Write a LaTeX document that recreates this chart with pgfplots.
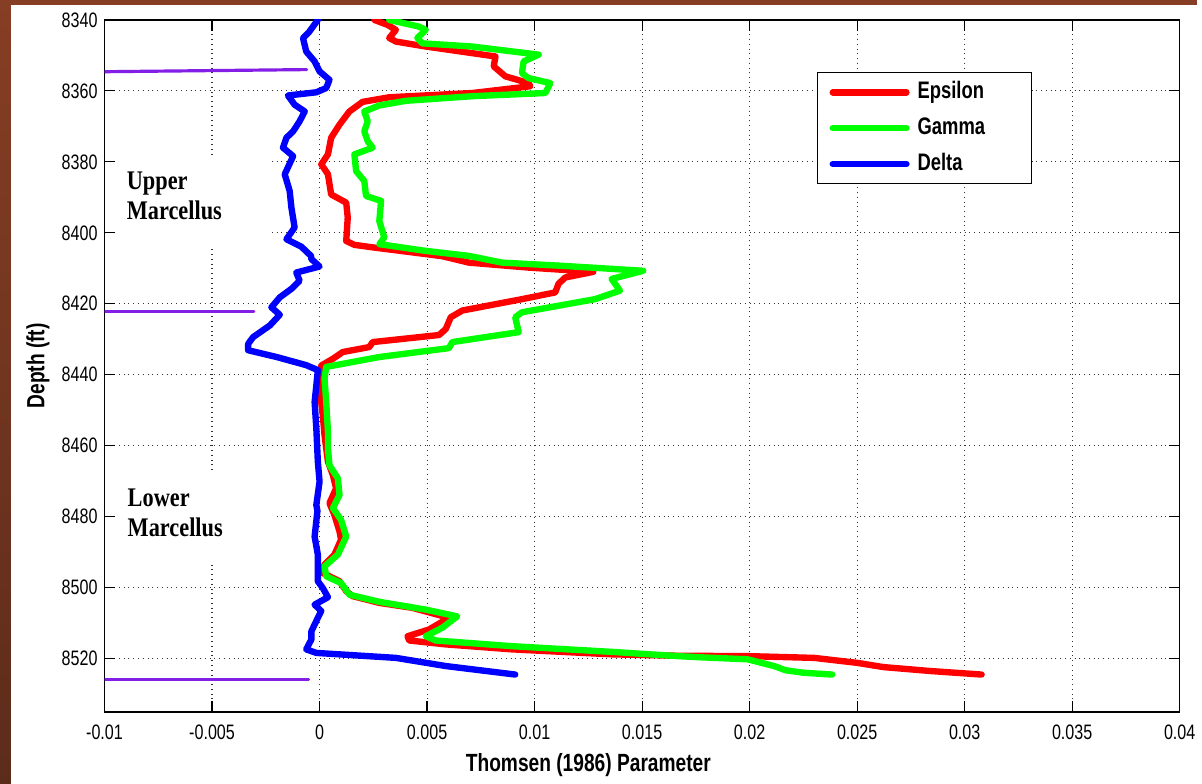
\documentclass[border=0pt]{standalone}
\usepackage{pgfplots}
\pgfplotsset{compat=1.18}
\usepackage{fontspec}
\setmainfont{Liberation Sans}[FakeStretch=0.77]
\newfontfamily\annofont{Liberation Serif}[FakeStretch=0.83]
\definecolor{epsc}{RGB}{255,0,0}
\definecolor{gamc}{RGB}{0,255,0}
\definecolor{delc}{RGB}{0,0,255}
\definecolor{topc}{RGB}{130,30,230}
\definecolor{frameA}{RGB}{134,62,36}
\definecolor{frameB}{RGB}{92,44,27}

\begin{document}
\begin{tikzpicture}
% page frame: 1 px of the reference = 0.5pt
\path (-52.5pt,-36pt) rectangle (548.5pt,357.5pt);
\shade[top color=frameA, bottom color=frameB] (-52.5pt,-36pt) rectangle (-47pt,357.5pt);
\fill[frameA] (-52.5pt,355pt) rectangle (548.5pt,357.5pt);
\begin{axis}[
  scale only axis, width=540pt, height=347.5pt,
  xmin=-0.01, xmax=0.04, ymin=8340, ymax=8535,
  y dir=reverse,
  scaled x ticks=false, scaled y ticks=false,
  xtick={-0.01,-0.005,0,0.005,0.01,0.015,0.02,0.025,0.03,0.035,0.04},
  xticklabels={-0.01,-0.005,0,0.005,0.01,0.015,0.02,0.025,0.03,0.035,0.04},
  ytick={8340,8360,8380,8400,8420,8440,8460,8480,8500,8520},
  yticklabel style={/pgf/number format/1000 sep={}, /pgf/number format/assume math mode=true},
  tick label style={font=\fontsize{10.5}{12}\selectfont},
  xticklabel style={yshift=-3pt},
  tick align=inside, major tick length=5.5pt,
  tick style={black, line width=0.6pt},
  axis line style={black, line width=0.75pt},
  grid=major, grid style={dotted, black!80, line width=0.55pt},
  every axis x label/.style={at={([yshift=-26.5pt]axis description cs:0.45,0)}, anchor=center,
    font=\bfseries\fontsize{12.5}{14}\selectfont},
  every axis y label/.style={at={([xshift=-33.5pt]axis description cs:0,0.5)}, rotate=90, anchor=center,
    font=\bfseries\fontsize{12.5}{14}\selectfont},
  xlabel={Thomsen (1986) Parameter},
  ylabel={Depth (ft)},
  legend style={at={(0.6627,0.9247)}, anchor=north west, draw=black, line width=0.6pt, fill=white,
    inner xsep=6pt, inner ysep=3.3pt, row sep=4.8pt,
    font=\bfseries\fontsize{12}{14}\selectfont,
    nodes={inner xsep=4pt, inner ysep=1pt, text depth=2.5pt, text height=8.7pt, text width=47pt}},
  legend cell align=left,
  legend image code/.code={\draw[#1] (0pt,0pt) -- (37pt,0pt);},
  every axis plot/.append style={line join=round, line cap=round},
]
% formation top markers
\addplot[forget plot, topc, line width=1.6pt] coordinates {(-0.01,8354.6) (-0.0006,8354.0)};
\addplot[forget plot, topc, line width=1.6pt] coordinates {(-0.01,8422.1) (-0.00306,8422.1)};
\addplot[forget plot, topc, line width=1.6pt] coordinates {(-0.01,8525.8) (-0.00051,8525.8)};

\addplot[epsc, line width=3.2pt] coordinates {
(0.00255,8340.0) (0.00316,8341.4) (0.00355,8342.8) (0.00324,8345.1) (0.00355,8346.1)
(0.00494,8347.5) (0.00818,8350.3) (0.00810,8353.1) (0.00864,8355.9) (0.00972,8357.8)
(0.00980,8358.7) (0.00710,8360.6) (0.00324,8361.8) (0.00200,8363.1) (0.00139,8365.8)
(0.00093,8369.5) (0.00054,8373.2) (0.00039,8377.9) (0.00008,8380.7) (0.00039,8383.5)
(0.00054,8389.2) (0.00124,8391.5) (0.00131,8395.7) (0.00124,8402.3) (0.00162,8403.4)
(0.00247,8404.1) (0.00494,8406.0) (0.00571,8406.6) (0.00694,8408.4) (0.00972,8409.8)
(0.01273,8411.0) (0.01142,8412.6) (0.01111,8414.4) (0.01096,8416.8) (0.00941,8418.7)
(0.00664,8421.9) (0.00610,8423.8) (0.00587,8427.1) (0.00556,8428.8) (0.00247,8430.8)
(0.00231,8432.2) (0.00108,8433.6) (0.00062,8435.5) (0.00008,8437.4) (0.00000,8440.2)
(0.00000,8443.9) (0.00015,8451.4) (0.00023,8457.0) (0.00031,8460.8) (0.00039,8464.5)
(0.00062,8468.3) (0.00077,8472.0) (0.00046,8476.2) (0.00069,8479.5) (0.00093,8484.2)
(0.00100,8486.5) (0.00069,8490.7) (0.00023,8493.5) (0.00015,8495.9) (0.00093,8498.2)
(0.00124,8501.0) (0.00154,8502.4) (0.00278,8504.3) (0.00432,8505.7) (0.00602,8508.5)
(0.00509,8511.8) (0.00409,8513.7) (0.00417,8514.9) (0.00587,8516.0) (0.00895,8517.4)
(0.01358,8518.8) (0.01667,8519.2) (0.01990,8519.3) (0.02300,8519.8) (0.02500,8521.2)
(0.02623,8522.4) (0.02840,8523.5) (0.03079,8524.5)
};
\addlegendentry{Epsilon}

\addplot[gamc, line width=3.2pt] coordinates {
(0.00324,8340.0) (0.00463,8341.9) (0.00494,8342.8) (0.00455,8345.1) (0.00478,8346.6)
(0.00710,8347.5) (0.01019,8349.8) (0.00949,8351.7) (0.00941,8355.0) (0.00972,8356.4)
(0.01073,8357.8) (0.01050,8360.6) (0.00710,8361.5) (0.00401,8362.8) (0.00278,8364.1)
(0.00208,8365.8) (0.00224,8368.6) (0.00208,8371.4) (0.00224,8374.2) (0.00247,8376.0)
(0.00162,8377.9) (0.00170,8382.6) (0.00208,8385.4) (0.00216,8389.6) (0.00286,8391.0)
(0.00278,8396.7) (0.00301,8401.3) (0.00278,8403.2) (0.00494,8405.1) (0.00694,8406.5)
(0.00849,8408.4) (0.01127,8409.3) (0.01505,8410.7) (0.01358,8413.0) (0.01397,8416.3)
(0.01281,8418.7) (0.00941,8422.4) (0.00910,8423.8) (0.00926,8428.0) (0.00617,8430.8)
(0.00602,8432.5) (0.00278,8435.0) (0.00031,8437.8) (0.00023,8441.1) (0.00031,8447.7)
(0.00039,8456.1) (0.00039,8460.8) (0.00046,8465.5) (0.00085,8469.2) (0.00093,8473.9)
(0.00062,8477.6) (0.00100,8480.9) (0.00124,8485.6) (0.00085,8490.7) (0.00023,8494.0)
(0.00031,8496.8) (0.00100,8498.7) (0.00139,8502.0) (0.00278,8504.0) (0.00494,8506.2)
(0.00640,8508.1) (0.00571,8511.3) (0.00494,8513.7) (0.00540,8514.9) (0.00895,8516.5)
(0.01358,8518.1) (0.01667,8519.3) (0.01759,8519.6) (0.01990,8520.2) (0.02114,8522.1)
(0.02168,8523.3) (0.02253,8524.0) (0.02384,8524.5)
};
\addlegendentry{Gamma}

\addplot[delc, line width=3.2pt] coordinates {
(-0.00008,8340.0) (-0.00050,8343.5) (-0.00077,8345.1) (-0.00062,8348.9) (-0.00023,8351.7)
(0.00000,8354.5) (0.00046,8356.9) (0.00031,8359.2) (-0.00015,8360.4) (-0.00147,8361.3)
(-0.00116,8363.9) (-0.00069,8365.8) (-0.00093,8368.6) (-0.00123,8371.4) (-0.00154,8373.2)
(-0.00170,8376.0) (-0.00123,8378.4) (-0.00162,8383.5) (-0.00139,8388.2) (-0.00131,8392.9)
(-0.00116,8398.5) (-0.00154,8401.8) (-0.00085,8403.9) (-0.00040,8406.5) (-0.00038,8407.4)
(0.00000,8409.5) (-0.00108,8411.2) (-0.00093,8413.5) (-0.00131,8415.8) (-0.00185,8418.2)
(-0.00224,8421.0) (-0.00185,8423.1) (-0.00231,8426.1) (-0.00309,8429.4) (-0.00332,8431.3)
(-0.00332,8433.1) (-0.00200,8435.0) (-0.00062,8437.3) (-0.00008,8438.7) (-0.00015,8443.0)
(-0.00023,8447.7) (-0.00015,8455.2) (-0.00008,8464.5) (0.00000,8470.1) (-0.00015,8476.7)
(-0.00010,8478.4) (-0.00023,8485.6) (-0.00008,8490.7) (-0.00008,8498.2) (0.00015,8500.1)
(0.00039,8502.7) (-0.00023,8504.8) (0.00008,8506.6) (-0.00008,8508.5) (-0.00038,8512.3)
(-0.00038,8514.6) (-0.00062,8517.4) (-0.00015,8518.4) (0.00355,8519.8) (0.00587,8522.1)
(0.00910,8524.5)
};
\addlegendentry{Delta}

% zone annotations
\fill[white] (axis cs:-0.00944,8378.5) rectangle (axis cs:-0.00231,8404.6);
\fill[white] (axis cs:-0.00944,8467.8) rectangle (axis cs:-0.00218,8493.1);
\node[anchor=west, align=left, inner sep=0pt, font=\annofont\bfseries\fontsize{13.5}{15}\selectfont]
  at (axis cs:-0.00898,8389.7) {Upper\\Marcellus};
\node[anchor=west, align=left, inner sep=0pt, font=\annofont\bfseries\fontsize{13.5}{15}\selectfont]
  at (axis cs:-0.00894,8478.9) {Lower\\Marcellus};
\end{axis}
\end{tikzpicture}
\end{document}
